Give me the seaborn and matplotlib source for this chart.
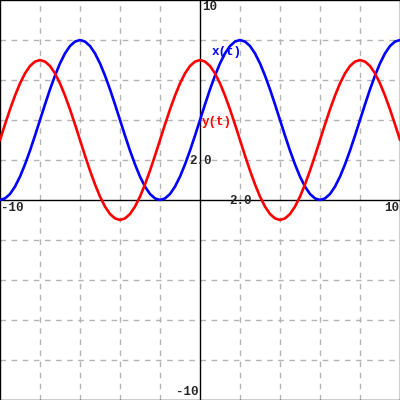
import seaborn as sns
import matplotlib
matplotlib.use("Agg")
import matplotlib.pyplot as plt

# sample positions along the horizontal axis (every 0.25)
t_vals = [-10.0 + 0.25 * i for i in range(81)]

# x(t)
x_of_t = [0.0, 0.08, 0.30, 0.67, 1.17, 1.78, 2.47, 3.22, 4.0, 4.78, 5.53, 6.22, 6.83, 7.33, 7.70, 7.92,
          8.0, 7.92, 7.70, 7.33, 6.83, 6.22, 5.53, 4.78, 4.0, 3.22, 2.47, 1.78, 1.17, 0.67, 0.30, 0.08,
          0.0, 0.08, 0.30, 0.67, 1.17, 1.78, 2.47, 3.22, 4.0, 4.78, 5.53, 6.22, 6.83, 7.33, 7.70, 7.92,
          8.0, 7.92, 7.70, 7.33, 6.83, 6.22, 5.53, 4.78, 4.0, 3.22, 2.47, 1.78, 1.17, 0.67, 0.30, 0.08,
          0.0, 0.08, 0.30, 0.67, 1.17, 1.78, 2.47, 3.22, 4.0, 4.78, 5.53, 6.22, 6.83, 7.33, 7.70, 7.92,
          8.0]

# y(t)
y_of_t = [3.0, 3.78, 4.53, 5.22, 5.83, 6.33, 6.70, 6.92,
          7.0, 6.92, 6.70, 6.33, 5.83, 5.22, 4.53, 3.78, 3.0, 2.22, 1.47, 0.78, 0.17, -0.33, -0.70, -0.92,
          -1.0, -0.92, -0.70, -0.33, 0.17, 0.78, 1.47, 2.22, 3.0, 3.78, 4.53, 5.22, 5.83, 6.33, 6.70, 6.92,
          7.0, 6.92, 6.70, 6.33, 5.83, 5.22, 4.53, 3.78, 3.0, 2.22, 1.47, 0.78, 0.17, -0.33, -0.70, -0.92,
          -1.0, -0.92, -0.70, -0.33, 0.17, 0.78, 1.47, 2.22, 3.0, 3.78, 4.53, 5.22, 5.83, 6.33, 6.70, 6.92,
          7.0, 6.92, 6.70, 6.33, 5.83, 5.22, 4.53, 3.78, 3.0]

grid_ticks = [-8, -6, -4, -2, 2, 4, 6, 8]

sns.set_style("white")
plt.rcParams['font.family'] = ['Liberation Mono', 'DejaVu Sans Mono']

fig = plt.figure(figsize=(4, 4), dpi=100)
ax = fig.add_axes([0, 0, 1, 1])
ax.set_xlim(-10, 10)
ax.set_ylim(-10, 10)

# dashed grid
for g in grid_ticks:
    ax.axvline(g, color="#b4b4b4", linestyle=(0, (4, 4)), linewidth=1, zorder=0)
    ax.axhline(g, color="#b4b4b4", linestyle=(0, (4, 4)), linewidth=1, zorder=0)

# axes through the origin
ax.axhline(0, color="black", linewidth=1, zorder=1)
ax.axvline(0, color="black", linewidth=1, zorder=1)

sns.lineplot(x=t_vals, y=x_of_t, color="blue", linewidth=1.9, ax=ax, zorder=3)
sns.lineplot(x=t_vals, y=y_of_t, color="red", linewidth=1.9, ax=ax, zorder=3)

ax.set_xticks([])
ax.set_yticks([])
for s in ax.spines.values():
    s.set_color("black")
    s.set_linewidth(1)

fs = 9
ax.text(0.1, 9.95, "10", fontsize=fs, fontweight="bold", ha="left", va="top")
ax.text(-0.1, -9.9, "-10", fontsize=fs, fontweight="bold", ha="right", va="bottom")
ax.text(-9.95, -0.1, "-10", fontsize=fs, fontweight="bold", ha="left", va="top")
ax.text(9.95, -0.1, "10", fontsize=fs, fontweight="bold", ha="right", va="top")
ax.text(0.0, 1.95, "2.0", fontsize=fs, fontweight="bold", ha="center", va="center")
ax.text(2.0, -0.05, "2.0", fontsize=fs, fontweight="bold", ha="center", va="center")
ax.text(0.6, 7.4, "x(t)", fontsize=fs, fontweight="bold", color="blue", ha="left", va="center")
ax.text(0.1, 3.9, "y(t)", fontsize=fs, fontweight="bold", color="red", ha="left", va="center")

fig.savefig("out.png", dpi=100)
